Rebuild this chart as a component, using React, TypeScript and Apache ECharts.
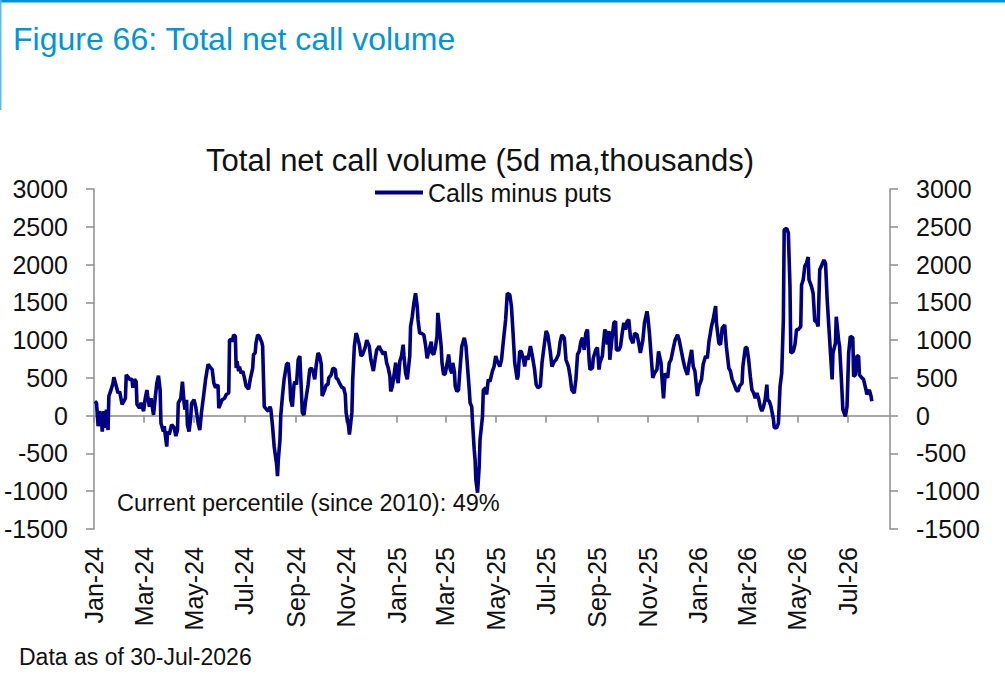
import React, { useEffect, useRef } from "react";
import * as echarts from "echarts";

const FONT = "'Liberation Sans', Arial, sans-serif";

const dates2024 = [
  "2024-01-02","2024-01-04","2024-01-06","2024-01-08","2024-01-10","2024-01-11","2024-01-13","2024-01-15","2024-01-16","2024-01-18",
  "2024-01-19","2024-01-21","2024-01-24","2024-01-25","2024-01-28","2024-01-30","2024-02-01","2024-02-04","2024-02-06","2024-02-08",
  "2024-02-09","2024-02-12","2024-02-13","2024-02-16","2024-02-17","2024-02-19","2024-02-21","2024-02-22","2024-02-25","2024-02-27",
  "2024-03-01","2024-03-03","2024-03-05","2024-03-06","2024-03-08","2024-03-10","2024-03-13","2024-03-15","2024-03-17","2024-03-19",
  "2024-03-21","2024-03-22","2024-03-25","2024-03-26","2024-03-29","2024-03-30","2024-04-01","2024-04-03","2024-04-04","2024-04-07",
  "2024-04-09","2024-04-11","2024-04-12","2024-04-15","2024-04-17","2024-04-19","2024-04-20","2024-04-22","2024-04-23","2024-04-25",
  "2024-04-27","2024-04-28","2024-05-01","2024-05-03","2024-05-06","2024-05-08","2024-05-10","2024-05-13","2024-05-15","2024-05-18",
  "2024-05-20","2024-05-23","2024-05-25","2024-05-27","2024-05-30","2024-05-31","2024-06-04","2024-06-07","2024-06-09","2024-06-12",
  "2024-06-13","2024-06-15","2024-06-16","2024-06-18","2024-06-20","2024-06-21","2024-06-22","2024-06-24","2024-06-25","2024-06-27",
  "2024-06-29","2024-07-01","2024-07-03","2024-07-06","2024-07-08","2024-07-11","2024-07-12","2024-07-14","2024-07-15","2024-07-17",
  "2024-07-19","2024-07-22","2024-07-23","2024-07-25","2024-07-28","2024-07-30","2024-08-01","2024-08-02","2024-08-04","2024-08-06",
  "2024-08-09","2024-08-10","2024-08-11","2024-08-13","2024-08-14","2024-08-16","2024-08-18","2024-08-21","2024-08-23","2024-08-25",
  "2024-08-26","2024-08-28","2024-08-30","2024-08-31","2024-09-02","2024-09-04","2024-09-06","2024-09-08","2024-09-09","2024-09-11",
  "2024-09-13","2024-09-16","2024-09-18","2024-09-20","2024-09-22","2024-09-24","2024-09-26","2024-09-28","2024-09-30","2024-10-02",
  "2024-10-03","2024-10-06","2024-10-08","2024-10-10","2024-10-11","2024-10-14","2024-10-16","2024-10-19","2024-10-20","2024-10-22",
  "2024-10-24","2024-10-27","2024-10-29","2024-10-31","2024-11-01","2024-11-04","2024-11-05","2024-11-08","2024-11-09","2024-11-11",
  "2024-11-13","2024-11-14","2024-11-17","2024-11-19","2024-11-21","2024-11-24","2024-11-26","2024-11-29","2024-12-01","2024-12-04",
  "2024-12-06","2024-12-08","2024-12-11","2024-12-13","2024-12-16","2024-12-18","2024-12-20","2024-12-22","2024-12-24","2024-12-25",
  "2024-12-27","2024-12-29","2024-12-31",
];
const values2024 = [
  190, 170, -140, 60, -50, -210, 60, -160, 80, -190,
  260, 320, 430, 510, 390, 300, 320, 150, 190, 230,
  540, 500, 480, 480, 370, 480, 450, 150, 100, 170,
  60, 230, 340, 260, 120, 230, 10, 230, 430, 530,
  340, -100, -210, -140, -410, -210, -250, -160, -120, -160,
  -270, -190, 170, 230, 450, 170, 80, 210, -120, -210,
  -30, 160, 210, 120, -100, -190, 40, 300, 480, 680,
  650, 610, 430, 370, 410, 100, 210, 230, 280, 300,
  1000, 1010, 980, 1070, 1050, 630, 720, 590, 650, 560,
  590, 500, 390, 350, 480, 630, 810, 830, 960, 1070,
  1050, 970, 920, 120, 80, 60, 120, 80, -140, -410,
  -650, -800, -580, -320, 10, 260, 480, 680, 700, 430,
  210, 120, 410, 450, 410, 740, 790, 300, 40, 10,
  190, 410, 610, 630, 590, 480, 680, 830, 790, 680,
  260, 340, 410, 410, 500, 540, 630, 610, 500, 480,
  430, 370, 370, 280, 40, -140, -250, 40, 480, 920,
  1090, 1070, 940, 790, 810, 900, 1000, 920, 740, 590,
  740, 870, 920, 870, 810, 850, 700, 630, 520, 320,
  390, 540, 700,
];

const dates2025 = [
  "2025-01-02","2025-01-03","2025-01-05","2025-01-07","2025-01-09","2025-01-10","2025-01-12","2025-01-14","2025-01-17","2025-01-18",
  "2025-01-20","2025-01-22","2025-01-24","2025-01-26","2025-01-27","2025-01-29","2025-01-31","2025-02-03","2025-02-05","2025-02-07",
  "2025-02-09","2025-02-12","2025-02-13","2025-02-15","2025-02-17","2025-02-19","2025-02-20","2025-02-22","2025-02-24","2025-02-25",
  "2025-02-27","2025-03-01","2025-03-04","2025-03-05","2025-03-07","2025-03-09","2025-03-10","2025-03-12","2025-03-13","2025-03-15",
  "2025-03-17","2025-03-19","2025-03-21","2025-03-24","2025-03-26","2025-03-28","2025-03-30","2025-03-31","2025-04-02","2025-04-03",
  "2025-04-05","2025-04-06","2025-04-07","2025-04-09","2025-04-11","2025-04-12","2025-04-15","2025-04-16","2025-04-19","2025-04-20",
  "2025-04-22","2025-04-24","2025-04-27","2025-04-29","2025-05-01","2025-05-03","2025-05-06","2025-05-08","2025-05-10","2025-05-13",
  "2025-05-15","2025-05-18","2025-05-20","2025-05-22","2025-05-24","2025-05-27","2025-05-28","2025-05-30","2025-06-01","2025-06-04",
  "2025-06-05","2025-06-07","2025-06-09","2025-06-12","2025-06-14","2025-06-17","2025-06-19","2025-06-21","2025-06-24","2025-06-26",
  "2025-06-29","2025-07-01","2025-07-03","2025-07-06","2025-07-08","2025-07-11","2025-07-13","2025-07-16","2025-07-18","2025-07-20",
  "2025-07-23","2025-07-25","2025-07-28","2025-07-30","2025-08-01","2025-08-04","2025-08-06","2025-08-08","2025-08-10","2025-08-12",
  "2025-08-14","2025-08-16","2025-08-18","2025-08-20","2025-08-22","2025-08-23","2025-08-26","2025-08-27","2025-08-30","2025-09-01",
  "2025-09-03","2025-09-04","2025-09-07","2025-09-08","2025-09-10","2025-09-12","2025-09-13","2025-09-15","2025-09-16","2025-09-19",
  "2025-09-21","2025-09-23","2025-09-24","2025-09-27","2025-09-29","2025-10-01","2025-10-03","2025-10-05","2025-10-07","2025-10-09",
  "2025-10-11","2025-10-14","2025-10-16","2025-10-19","2025-10-21","2025-10-23","2025-10-26","2025-10-28","2025-10-31","2025-11-01",
  "2025-11-03","2025-11-05","2025-11-07","2025-11-09","2025-11-12","2025-11-14","2025-11-17","2025-11-18","2025-11-20","2025-11-22",
  "2025-11-25","2025-11-27","2025-11-29","2025-12-02","2025-12-04","2025-12-07","2025-12-09","2025-12-12","2025-12-14","2025-12-16",
  "2025-12-19","2025-12-21","2025-12-24","2025-12-26","2025-12-28","2025-12-31",
];
const values2025 = [
  480, 430, 720, 790, 940, 790, 560, 480, 790, 1180,
  1310, 1490, 1620, 1450, 1270, 1090, 1090, 1070, 940, 760,
  850, 980, 830, 810, 900, 1050, 1360, 1140, 920, 700,
  540, 560, 740, 810, 610, 560, 700, 590, 390, 320,
  340, 650, 920, 1030, 920, 630, 340, 170, 120, -100,
  -450, -580, -850, -1020, -670, -320, -10, 340, 370, 280,
  480, 450, 590, 650, 790, 720, 650, 740, 960, 1270,
  1620, 1600, 1450, 1090, 700, 480, 520, 850, 850, 720,
  650, 790, 740, 920, 810, 610, 410, 370, 390, 700,
  960, 1120, 1070, 850, 650, 720, 740, 810, 980, 1070,
  1030, 740, 650, 520, 340, 300, 480, 810, 850, 980,
  1030, 870, 1090, 1140, 740, 610, 630, 760, 870, 900,
  610, 700, 790, 920, 1140, 1070, 940, 1120, 740, 1050,
  1230, 1250, 870, 870, 920, 1090, 1230, 1140, 1250, 1270,
  1030, 960, 1090, 1070, 960, 830, 1000, 1230, 1380, 1310,
  1090, 790, 500, 560, 610, 850, 700, 520, 230, 560,
  500, 700, 740, 900, 1000, 1070, 1000, 830, 720, 630,
  540, 700, 870, 650, 590, 260,
];

const dates2026 = [
  "2026-01-02","2026-01-05","2026-01-07","2026-01-10","2026-01-12","2026-01-14","2026-01-17","2026-01-19","2026-01-22","2026-01-23",
  "2026-01-26","2026-01-28","2026-01-30","2026-02-02","2026-02-04","2026-02-07","2026-02-09","2026-02-11","2026-02-13","2026-02-16",
  "2026-02-18","2026-02-20","2026-02-23","2026-02-24","2026-02-27","2026-03-01","2026-03-03","2026-03-05","2026-03-07","2026-03-09",
  "2026-03-11","2026-03-13","2026-03-15","2026-03-17","2026-03-19","2026-03-21","2026-03-23","2026-03-25","2026-03-26","2026-03-28",
  "2026-03-30","2026-04-02","2026-04-03","2026-04-06","2026-04-08","2026-04-10","2026-04-12","2026-04-14","2026-04-15","2026-04-18",
  "2026-04-20","2026-04-22","2026-04-23","2026-04-26","2026-04-28","2026-04-30","2026-05-02","2026-05-05","2026-05-06","2026-05-08",
  "2026-05-10","2026-05-12","2026-05-14","2026-05-15","2026-05-18","2026-05-20","2026-05-22","2026-05-24","2026-05-26","2026-05-28",
  "2026-05-30","2026-06-02","2026-06-04","2026-06-06","2026-06-08","2026-06-10","2026-06-12","2026-06-13","2026-06-16","2026-06-17",
  "2026-06-20","2026-06-21","2026-06-23","2026-06-25","2026-06-28","2026-06-30","2026-07-02","2026-07-04","2026-07-07","2026-07-08",
  "2026-07-10","2026-07-12","2026-07-14","2026-07-15","2026-07-18","2026-07-20","2026-07-23","2026-07-24","2026-07-27","2026-07-29",
  "2026-07-30",
];
const values2026 = [
  390, 480, 680, 790, 760, 980, 1180, 1270, 1450, 1230,
  960, 940, 1160, 1200, 920, 630, 590, 480, 430, 340,
  320, 390, 430, 650, 900, 900, 740, 520, 340, 300,
  230, 300, 230, 120, 60, 120, 210, 410, 210, 190,
  120, -50, -160, -160, -100, 390, 560, 1270, 2460, 2480,
  2420, 1710, 830, 850, 940, 1140, 1140, 1180, 1730, 1800,
  1980, 2020, 2100, 1800, 1710, 1620, 1250, 1250, 1180, 1930,
  1980, 2060, 2020, 1540, 1180, 830, 480, 830, 960, 1310,
  980, 920, 520, 80, -10, 120, 830, 1050, 1030, 520,
  540, 790, 790, 540, 500, 480, 340, 280, 340, 260,
  190,
];

const tickDates = [
  "2024-01-01","2024-03-01","2024-05-01","2024-07-01","2024-09-01","2024-11-01",
  "2025-01-01","2025-03-01","2025-05-01","2025-07-01","2025-09-01","2025-11-01",
  "2026-01-01","2026-03-01","2026-05-01","2026-07-01",
];
const tickLabels = [
  "Jan-24","Mar-24","May-24","Jul-24","Sep-24","Nov-24",
  "Jan-25","Mar-25","May-25","Jul-25","Sep-25","Nov-25",
  "Jan-26","Mar-26","May-26","Jul-26",
];
const axisStart = "2024-01-01";
const axisEnd = "2026-08-21";

const seriesName = "Calls minus puts";
const figureTitle = "Figure 66: Total net call volume";
const chartTitle = "Total net call volume (5d ma,thousands)";
const noteText = "Current percentile (since 2010): 49%";
const footerText = "Data as of 30-Jul-2026";

function toTime(s: string): number {
  const [y, m, d] = s.split("-").map(Number);
  return Date.UTC(y, m - 1, d);
}

export default function App() {
  const ref = useRef<HTMLDivElement>(null);

  useEffect(() => {
    document.body.style.margin = "0";
    if (!ref.current) return;
    const chart = echarts.init(ref.current, null, { renderer: "svg" });

    const dates = [...dates2024, ...dates2025, ...dates2026];
    const values = [...values2024, ...values2025, ...values2026];
    const data = dates.map((d, i) => [toTime(d), values[i]]);
    const tickTimes = tickDates.map(toTime);
    const labelOf = new Map<number, string>();
    tickTimes.forEach((t, i) => labelOf.set(t, tickLabels[i]));

    const axisGrey = "#8c8c8c";
    const textColor = "#111111";

    const yAxisBase = {
      type: "value",
      min: -1500,
      max: 3000,
      interval: 500,
      axisLine: { show: true, lineStyle: { color: axisGrey, width: 1.5 } },
      axisTick: { show: true, length: 8, lineStyle: { color: axisGrey, width: 1.5 } },
      axisLabel: {
        fontSize: 25,
        margin: 26,
        color: textColor,
        fontFamily: FONT,
        formatter: (v: number) => String(v),
      },
      splitLine: { show: false },
    };

    chart.setOption({
      animation: false,
      textStyle: { fontFamily: FONT },
      grid: { left: 94, right: 115, top: 189, bottom: 162, containLabel: false },
      legend: {
        data: [seriesName],
        left: 375,
        top: 180,
        padding: 0,
        icon: "rect",
        itemWidth: 48,
        itemHeight: 4,
        textStyle: { fontSize: 25, color: textColor, fontFamily: FONT },
      },
      xAxis: [
        {
          type: "value",
          min: toTime(axisStart),
          max: toTime(axisEnd),
          axisLine: { show: true, onZero: true, onZeroAxisIndex: 0, lineStyle: { color: axisGrey, width: 1.5 } },
          axisTick: { show: true, customValues: tickTimes, length: 7, lineStyle: { color: axisGrey, width: 1.5 } },
          axisLabel: { show: false },
          splitLine: { show: false },
        },
        {
          type: "value",
          position: "bottom",
          min: toTime(axisStart),
          max: toTime(axisEnd),
          axisLine: { show: false, onZero: false },
          axisTick: { show: false },
          axisLabel: {
            show: true,
            customValues: tickTimes,
            rotate: 90,
            margin: 18,
            fontSize: 25,
            color: textColor,
            fontFamily: FONT,
            formatter: (v: number) => labelOf.get(v) ?? "",
          },
          splitLine: { show: false },
        },
      ],
      yAxis: [
        { ...yAxisBase, position: "left" },
        { ...yAxisBase, position: "right" },
      ],
      series: [
        {
          name: seriesName,
          type: "line",
          xAxisIndex: 0,
          yAxisIndex: 0,
          data,
          showSymbol: false,
          symbol: "none",
          lineStyle: { color: "#000080", width: 3.6 },
          itemStyle: { color: "#000080" },
        },
      ],
      graphic: [
        { type: "rect", shape: { x: 0, y: 0, width: 1005, height: 2.5 }, style: { fill: "#0095DA" } },
        { type: "rect", shape: { x: 0, y: 0, width: 1.5, height: 110 }, style: { fill: "#5BBBE8" } },
        {
          type: "text",
          x: 13,
          y: 39,
          style: { text: figureTitle, fontSize: 32, fontFamily: FONT, fill: "#0095DA", align: "left", verticalAlign: "middle" },
        },
        {
          type: "text",
          x: 480,
          y: 160,
          style: { text: chartTitle, fontSize: 31, fontFamily: FONT, fill: textColor, align: "center", verticalAlign: "middle" },
        },
        {
          type: "text",
          x: 117,
          y: 503,
          z: 10,
          style: { text: noteText, fontSize: 23.5, fontFamily: FONT, fill: textColor, align: "left", verticalAlign: "middle" },
        },
        {
          type: "text",
          x: 19,
          y: 657,
          style: { text: footerText, fontSize: 23, fontFamily: FONT, fill: textColor, align: "left", verticalAlign: "middle" },
        },
      ],
    });

    return () => chart.dispose();
  }, []);

  return <div ref={ref} style={{ width: 1005, height: 691 }} />;
}
